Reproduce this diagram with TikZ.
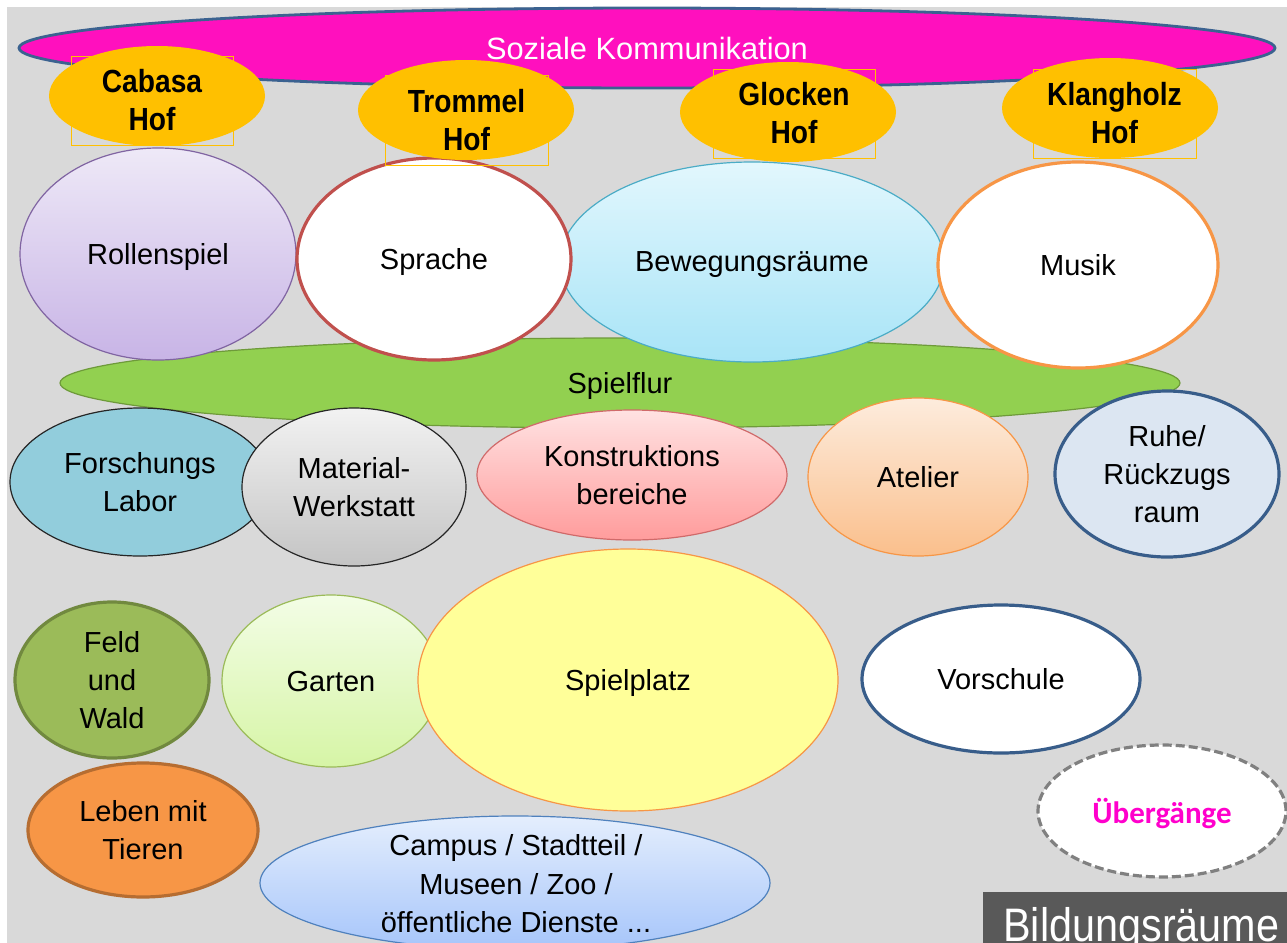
\documentclass[tikz,border=0pt]{standalone}
\usepackage{fontspec}
\setmainfont{Liberation Sans}
\newfontfamily\schmalfont[FakeStretch=0.88]{Liberation Sans}
\newfontfamily\calibrifont{Carlito}
\usetikzlibrary{shapes,positioning}

\definecolor{hintergrund}{HTML}{D9D9D9}
\definecolor{hofgelb}{HTML}{FFC000}
\definecolor{sozialrosa}{HTML}{FF10BE}
\definecolor{sozialrand}{HTML}{3B6290}
\definecolor{flurgruen}{HTML}{92D050}
\definecolor{flurrand}{HTML}{6E9A3A}
\definecolor{rolloben}{HTML}{EEE9F7}
\definecolor{rollunten}{HTML}{C8B4E6}
\definecolor{rollrand}{HTML}{8064A2}
\definecolor{sprachrand}{HTML}{C0504D}
\definecolor{bewegoben}{HTML}{E2F7FD}
\definecolor{bewegunten}{HTML}{A8E4F7}
\definecolor{bewegrand}{HTML}{4BACC6}
\definecolor{orangerand}{HTML}{F79646}
\definecolor{laborblau}{HTML}{92CDDC}
\definecolor{dunkelrand}{HTML}{262626}
\definecolor{graueoben}{HTML}{F2F2F2}
\definecolor{graueunten}{HTML}{C4C4C4}
\definecolor{rosaoben}{HTML}{FFE2E2}
\definecolor{rosaunten}{HTML}{FF9C9C}
\definecolor{rosarand}{HTML}{D06A6A}
\definecolor{pfirsichoben}{HTML}{FDECDD}
\definecolor{pfirsichunten}{HTML}{FABF8C}
\definecolor{ruheblau}{HTML}{DCE6F2}
\definecolor{blaurand}{HTML}{385D8A}
\definecolor{feldgruen}{HTML}{9BBB59}
\definecolor{feldrand}{HTML}{71893F}
\definecolor{gartenoben}{HTML}{F3FDE6}
\definecolor{gartenunten}{HTML}{D6F5A6}
\definecolor{spielgelb}{HTML}{FFFF99}
\definecolor{tierorange}{HTML}{F79646}
\definecolor{tierrand}{HTML}{B66D31}
\definecolor{campusoben}{HTML}{E4EEFD}
\definecolor{campusunten}{HTML}{A6C5FA}
\definecolor{campusrand}{HTML}{4F81BD}
\definecolor{strichgrau}{HTML}{808080}
\definecolor{uebermagenta}{HTML}{FF00CC}
\definecolor{bildgrau}{HTML}{595959}

\begin{document}
\begin{tikzpicture}[x=0.5pt, y=-0.5pt,
  raum/.style={ellipse, inner sep=0pt, align=center, text depth=0pt, font=\fontsize{14.5}{19}\selectfont},
  duenn/.style={line width=0.6pt},
  dick/.style={line width=1.6pt},
  hof/.style={ellipse, fill=hofgelb, inner sep=0pt, minimum width=108pt, minimum height=50pt},
  hofrahmen/.style={draw=hofgelb, line width=0.5pt, inner sep=0pt},
  hoftext/.style={align=center, font=\schmalfont\bfseries\fontsize{16}{19}\selectfont}
]
\useasboundingbox (0,0) rectangle (1287,943);
\fill[hintergrund] (7,7) rectangle (1287,943);

% Soziale Kommunikation
\node[raum, fill=sozialrosa, draw=sozialrand, line width=1.4pt, minimum width=628pt, minimum height=40pt,
  text=white, font=\fontsize{15.4}{19}\selectfont] (sozial) at (647,48) {Soziale Kommunikation};

% Spielflur
\node[raum, fill=flurgruen, draw=flurrand, duenn, minimum width=560pt, minimum height=45pt] (spielflur) at (620,383) {Spielflur};

% obere Reihe
\node[raum, draw=rollrand, duenn, top color=rolloben, bottom color=rollunten, minimum width=138pt, minimum height=106pt] (rollenspiel) at (158,254) {Rollenspiel};
\node[raum, draw=bewegrand, duenn, top color=bewegoben, bottom color=bewegunten, minimum width=192pt, minimum height=100pt] (bewegung) at (752,262) {Bewegungsräume};
\node[raum, fill=white, draw=sprachrand, dick, minimum width=137pt, minimum height=101pt] (sprache) at (434,259) {Sprache};
\node[raum, fill=white, draw=orangerand, dick, minimum width=140pt, minimum height=103pt] (musik) at (1078,265) {Musik};

% Hoefe
\node[hofrahmen, minimum width=81pt, minimum height=44.5pt] (cabasarahmen) at (152,100.5) {};
\node[hof] (cabasa) at (157,96) {};
\node[hoftext] (cabasatext) at (cabasarahmen) {Cabasa\\Hof};

\node[hofrahmen, minimum width=81.5pt, minimum height=45pt] (trommelrahmen) at (466.5,120) {};
\node[hof] (trommel) at (466,110) {};
\node[hoftext] (trommeltext) at (trommelrahmen) {Trommel\\Hof};

\node[hofrahmen, minimum width=81pt, minimum height=44.5pt] (glockenrahmen) at (794,113.5) {};
\node[hof] (glocken) at (788,112) {};
\node[hoftext] (glockentext) at (glockenrahmen) {Glocken\\Hof};

\node[hofrahmen, minimum width=81.5pt, minimum height=44.5pt] (klangholzrahmen) at (1114.5,113.5) {};
\node[hof] (klangholz) at (1110,108) {};
\node[hoftext] (klangholztext) at (klangholzrahmen) {Klangholz\\Hof};

% mittlere Reihe
\node[raum, fill=laborblau, draw=dunkelrand, duenn, minimum width=130pt, minimum height=74pt] (labor) at (140,482) {Forschungs\\Labor};
\node[raum, draw=dunkelrand, duenn, top color=graueoben, bottom color=graueunten, minimum width=112pt, minimum height=79pt] (werkstatt) at (354,487) {Material-\\Werkstatt};
\node[raum, draw=rosarand, duenn, top color=rosaoben, bottom color=rosaunten, minimum width=155pt, minimum height=65pt] (konstruktion) at (632,475) {Konstruktions\\bereiche};
\node[raum, draw=orangerand, duenn, top color=pfirsichoben, bottom color=pfirsichunten, minimum width=110pt, minimum height=79pt] (atelier) at (918,477) {Atelier};
\node[raum, fill=ruheblau, draw=blaurand, dick, minimum width=112pt, minimum height=83pt] (ruhe) at (1167,474) {Ruhe/\\Rückzugs\\raum};

% untere Reihe
\node[raum, fill=feldgruen, draw=feldrand, dick, minimum width=97pt, minimum height=78pt] (feld) at (112,680) {Feld\\und\\Wald};
\node[raum, draw=feldgruen, duenn, top color=gartenoben, bottom color=gartenunten, minimum width=109pt, minimum height=86pt] (garten) at (331,681) {Garten};
\node[raum, fill=spielgelb, draw=orangerand, duenn, minimum width=210pt, minimum height=131pt] (spielplatz) at (628,680) {Spielplatz};
\node[raum, fill=white, draw=blaurand, dick, minimum width=139pt, minimum height=74pt] (vorschule) at (1001,679) {Vorschule};
\node[raum, fill=tierorange, draw=tierrand, dick, minimum width=115pt, minimum height=67pt] (tiere) at (143,830) {Leben mit\\Tieren};
\node[raum, draw=campusrand, duenn, top color=campusoben, bottom color=campusunten, minimum width=255pt, minimum height=67pt] (campus) at (515,883) {};
\node[align=center, font=\fontsize{14.5}{19.3}\selectfont] (campustext) at (516,884) {Campus / Stadtteil /\\Museen / Zoo /\\öffentliche Dienste ...};

% Uebergaenge
\node[raum, fill=white, draw=strichgrau, dick, dash pattern=on 4.5pt off 2pt, minimum width=124pt, minimum height=66pt,
  text=uebermagenta, font=\calibrifont\bfseries\fontsize{15.5}{19}\selectfont] (uebergaenge) at (1162,811) {Übergänge};

% Titel
\fill[bildgrau] (983,892) rectangle (1287,943);
\node[anchor=base west, inner sep=0pt, text=white, font=\schmalfont\fontsize{23.5}{28}\selectfont] (titel) at (1003,941) {Bildungsräume};
\end{tikzpicture}
\end{document}
